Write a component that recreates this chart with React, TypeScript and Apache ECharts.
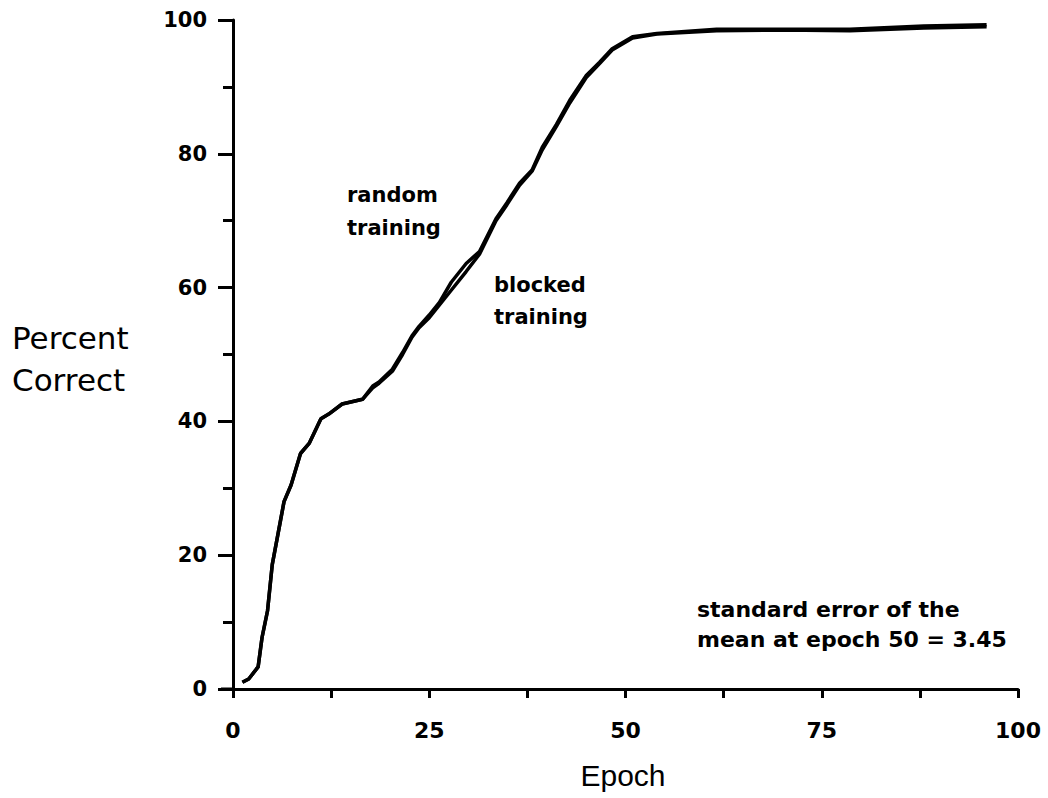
import React, { useEffect, useRef } from "react";
import * as echarts from "echarts";

const epochs = [1.2, 2, 3.2, 3.7, 4.4, 5.0, 5.8, 6.5, 7.4, 8.6, 9.7, 11.2, 12.2, 13.9, 16.5, 17.8, 18.6, 20.3, 21.6, 22.8, 23.7, 25.0, 26.3, 27.8, 29.7, 31.4, 33.5, 34.9, 36.5, 38.1, 39.4, 41.2, 42.9, 45.0, 46.7, 48.3, 50.9, 54, 61.6, 70, 78.6, 88, 96];
const randomTraining = [1.0, 1.5, 3.3, 7.7, 11.7, 18.6, 23.6, 28.0, 30.5, 35.2, 36.7, 40.4, 41.1, 42.6, 43.3, 45.3, 45.9, 47.8, 50.3, 52.8, 54.2, 55.9, 57.8, 60.8, 63.6, 65.4, 70.3, 72.7, 75.6, 77.6, 81.0, 84.4, 88.0, 91.7, 93.7, 95.7, 97.5, 98.0, 98.6, 98.6, 98.6, 99.1, 99.3];
const blockedTraining = [1.0, 1.5, 3.3, 7.7, 11.7, 18.6, 23.6, 28.0, 30.5, 35.2, 36.7, 40.4, 41.1, 42.6, 43.3, 45.0, 45.7, 47.5, 50.0, 52.6, 54.0, 55.5, 57.4, 59.6, 62.4, 65.0, 70.0, 72.4, 75.3, 77.4, 80.6, 84.1, 87.6, 91.4, 93.5, 95.5, 97.3, 97.9, 98.4, 98.5, 98.4, 98.8, 99.0];
const xTickLabels = [0, 25, 50, 75, 100];
const yTickLabels = [0, 20, 40, 60, 80, 100];

export default function App() {
  const ref = useRef<HTMLDivElement>(null);
  useEffect(() => {
    if (!ref.current) return;
    const chart = echarts.init(ref.current, null, { renderer: "svg" });
    const lineStyle = { color: "#000", width: 3.5 };
    const labelFont = { color: "#000", fontFamily: "DejaVu Sans", fontWeight: "bold" as const };
    const annot = (text: string, x: number, y: number, size: number) => ({
      type: "text",
      x,
      y,
      style: { text, font: `bold ${size}px 'DejaVu Sans'`, fill: "#000", textVerticalAlign: "middle" },
    });
    chart.setOption({
      animation: false,
      backgroundColor: "#fff",
      grid: { left: 233, right: 30, top: 20, bottom: 109, containLabel: false },
      xAxis: {
        type: "value",
        min: 0,
        max: 100,
        interval: 12.5,
        axisLine: { show: true, lineStyle: { color: "#000", width: 3 } },
        axisTick: { show: true, inside: false, length: 9, lineStyle: { color: "#000", width: 3 } },
        splitLine: { show: false },
        axisLabel: {
          ...labelFont,
          fontSize: 22,
          margin: 30,
          formatter: (v: number) => (xTickLabels.includes(v) ? String(v) : ""),
        },
      },
      yAxis: {
        type: "value",
        min: 0,
        max: 100,
        interval: 20,
        axisLine: { show: true, lineStyle: { color: "#000", width: 3 } },
        axisTick: { show: true, inside: false, length: 15, lineStyle: { color: "#000", width: 3 } },
        minorTick: { show: true, splitNumber: 2, length: 10, lineStyle: { color: "#000", width: 3 } },
        splitLine: { show: false },
        axisLabel: {
          ...labelFont,
          fontSize: 21,
          margin: 26,
          formatter: (v: number) => (yTickLabels.includes(v) ? String(v) : ""),
        },
      },
      series: [
        {
          name: "random training",
          type: "line",
          data: epochs.map((e, i) => [e, randomTraining[i]]),
          showSymbol: false,
          smooth: false,
          lineStyle,
        },
        {
          name: "blocked training",
          type: "line",
          data: epochs.map((e, i) => [e, blockedTraining[i]]),
          showSymbol: false,
          smooth: false,
          lineStyle,
        },
      ],
      graphic: [
        { type: "line", shape: { x1: 221, y1: 689, x2: 234, y2: 689 }, style: { stroke: "#000", lineWidth: 3 } },
        annot("random", 347, 195, 21),
        annot("training", 347, 228, 21),
        annot("blocked", 494, 285, 21),
        annot("training", 494, 317, 21),
        annot("standard error of the", 697, 609, 22),
        annot("mean at epoch 50 = 3.45", 697, 639, 22),
        { type: "text", x: 12, y: 338, style: { text: "Percent", font: "31px 'DejaVu Sans'", fill: "#000", textVerticalAlign: "middle" } },
        { type: "text", x: 12, y: 380, style: { text: "Correct", font: "31px 'DejaVu Sans'", fill: "#000", textVerticalAlign: "middle" } },
        { type: "text", x: 623, y: 775, style: { text: "Epoch", font: "30px 'Liberation Sans'", fill: "#000", textAlign: "center", textVerticalAlign: "middle" } },
      ],
    });
    return () => chart.dispose();
  }, []);
  return <div ref={ref} style={{ position: "fixed", left: 0, top: 0, width: 1048, height: 798 }} />;
}
